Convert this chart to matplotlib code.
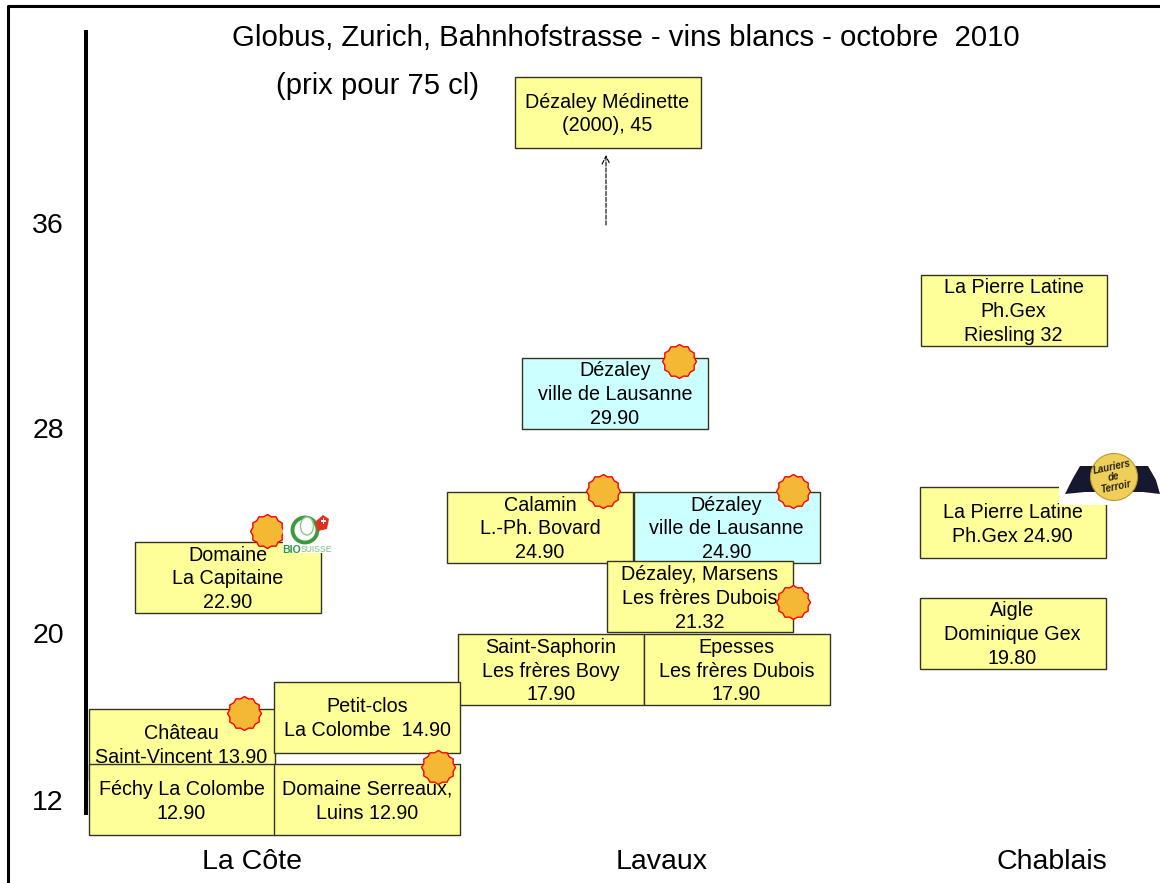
import numpy as np
import matplotlib
matplotlib.use('Agg')
import matplotlib.pyplot as plt
from matplotlib.patches import Rectangle, Ellipse, Polygon
from matplotlib.path import Path
from matplotlib.lines import Line2D

plt.rcParams['font.family'] = ['Liberation Sans', 'DejaVu Sans']

# tick labels
price_ticks = [36, 28, 20, 13.5]
price_labels = ['36', '28', '20', '12']
region_pos = [252, 662, 1052]
region_names = ['La Côte', 'Lavaux', 'Chablais']

# wine boxes, in drawing order
wine_labels = [
    'Dézaley Médinette\n(2000), 45',
    'La Pierre Latine\nPh.Gex\nRiesling 32',
    'Dézaley\nville de Lausanne\n29.90',
    'Calamin\nL.-Ph. Bovard\n24.90',
    'Dézaley\nville de Lausanne\n24.90',
    'La Pierre Latine\nPh.Gex 24.90',
    'Domaine\nLa Capitaine\n22.90',
    'Dézaley, Marsens\nLes frères Dubois\n21.32',
    'Aigle\nDominique Gex\n19.80',
    'Saint-Saphorin\nLes frères Bovy\n17.90',
    'Epesses\nLes frères Dubois\n17.90',
    'Château\nSaint-Vincent 13.90',
    'Petit-clos\nLa Colombe  14.90',
    'Féchy La Colombe\n12.90',
    'Domaine Serreaux,\nLuins 12.90',
]
wine_x = [607.5, 1013.5, 615, 540, 726.5, 1012.5, 228, 699.5, 1012.5, 551, 736.5, 181.5, 367, 181.5, 367]
wine_y = [40.31, 32.59, 29.35, 24.12, 24.12, 24.31, 22.17, 21.42, 20.0, 18.58, 18.58, 15.67, 16.72, 13.50, 13.50]
wine_col = ['#FFFF99'] * 15
wine_col[2] = '#CCFFFF'
wine_col[4] = '#CCFFFF'

# medal positions
sun_x = [679, 603, 793, 267, 793, 244, 438]
sun_y = [30.61, 25.54, 25.54, 23.98, 21.21, 16.88, 14.77]

fig = plt.figure(figsize=(11.6, 8.83), dpi=100)
ax = fig.add_axes([86 / 1160, 70 / 883, 1074 / 1160, 781 / 883])
ax.set_xlim(86, 1160)
ax.set_ylim(12.98, 43.45)
ax.patch.set_visible(False)
for s in ['top', 'right', 'bottom']:
    ax.spines[s].set_visible(False)
ax.spines['left'].set_linewidth(2.9)
ax.spines['left'].set_color('black')

ax.set_yticks(price_ticks, price_labels)
ax.set_xticks(region_pos, region_names)
ax.tick_params(axis='y', length=0, pad=16, labelsize=20.5)
ax.tick_params(axis='x', length=0, pad=26, labelsize=20.5)

box_w = 186
box_h = 2.77
for i in range(len(wine_labels)):
    ax.add_patch(Rectangle((wine_x[i] - box_w / 2, wine_y[i] - box_h / 2), box_w, box_h,
                           fc=wine_col[i], ec='#333322', lw=1.0, clip_on=False, zorder=3 + i))
    ax.text(wine_x[i], wine_y[i] - 0.06, wine_labels[i], ha='center', va='center', fontsize=14.2,
            linespacing=1.33, color='black', clip_on=False, zorder=3 + i)

# medal outline
ang = np.linspace(0, 2 * np.pi, 25)[:-1] + np.pi / 2
rad = np.where(np.arange(24) % 2 == 0, 1.0, 0.89)
verts = np.column_stack([rad * np.cos(ang), rad * np.sin(ang)])
verts = np.vstack([verts, verts[0]])
sun = Path(verts, closed=True)
ax.scatter(sun_x, sun_y, marker=sun, s=600, fc='#F4B934', ec='#FF0000', lw=1.0, zorder=30, clip_on=False)

# arrow up to the wine off the scale
ax.annotate('', xy=(606, 38.65), xytext=(606, 35.92),
            arrowprops=dict(arrowstyle='->', ls='--', lw=0.8, color='black', shrinkA=0, shrinkB=0, mutation_scale=14))

# overlay in pixels for title, frame and logos
top = fig.add_axes([0, 0, 1, 1], zorder=5)
top.set_xlim(0, 1160)
top.set_ylim(883, 0)
top.axis('off')
top.add_line(Line2D([7.5, 7.5, 1160], [883, 6, 6], color='black', lw=2.2))
top.text(626, 38.5, 'Globus, Zurich, Bahnhofstrasse - vins blancs - octobre  2010', ha='center', va='center', fontsize=21.2)
top.text(276, 86, '(prix pour 75 cl)', ha='left', va='center', fontsize=21)

# bio suisse logo
top.add_patch(Rectangle((283, 515), 47, 38, fc='white', ec='none'))
top.add_patch(Ellipse((305, 530), 25, 25, fc='none', ec='#3C9A3C', lw=2.8))
top.add_patch(Ellipse((307, 526), 13, 18, fc='white', ec='#8CC48C', lw=1.0))
top.add_patch(Polygon([[315, 522], [323, 515], [329, 519], [327, 529], [318, 531]], fc='#E03020', ec='none'))
top.add_patch(Rectangle((321, 520), 5, 1.8, fc='white', ec='none'))
top.add_patch(Rectangle((322.6, 518), 1.8, 5.5, fc='white', ec='none'))
clip = Rectangle((282, 544), 48, 8.5, transform=top.transData)
t1 = top.text(282, 550, 'BIO', color='#2E9A3C', fontsize=7.6, fontweight='bold', ha='left', va='center')
t2 = top.text(301, 550, 'SUISSE', color='#7DBD85', fontsize=6.2, ha='left', va='center')
t1.set_clip_path(clip)
t2.set_clip_path(clip)

# lauriers du terroir logo
top.add_patch(Rectangle((1059, 450), 101, 55, fc='white', ec='none'))
top.add_patch(Polygon([[1080, 466], [1100, 466], [1100, 492], [1085, 492], [1065, 494], [1072, 480]], fc='#15182E', ec='none'))
top.add_patch(Polygon([[1148, 466], [1128, 466], [1128, 492], [1143, 492], [1160, 494], [1156, 480]], fc='#15182E', ec='none'))
top.add_patch(Ellipse((1114, 477), 47, 47, fc='#EFCF5A', ec='#B89A30', lw=0.8))
top.text(1114, 477, 'Lauriers\nde\nTerroir', fontsize=7, style='italic', fontweight='bold',
         ha='center', va='center', rotation=12, linespacing=1.0, color='#2A2410')

fig.savefig('out.png', dpi=100)
